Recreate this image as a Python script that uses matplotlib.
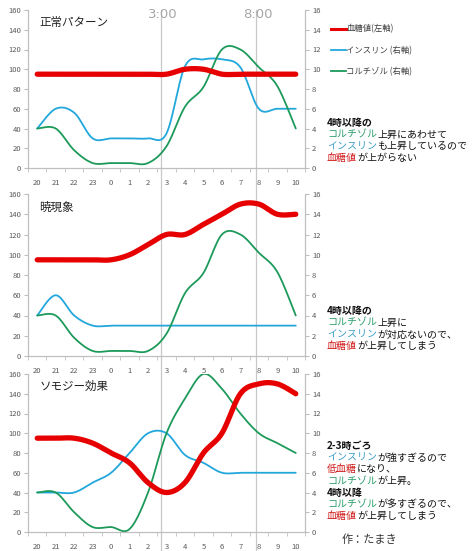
import numpy as np
import matplotlib
matplotlib.use('Agg')
import matplotlib.pyplot as plt
from matplotlib.lines import Line2D
from matplotlib import transforms

plt.rcParams['font.family'] = ['Noto Sans CJK JP', 'DejaVu Sans']

# 時刻 (カテゴリ)
hours = ['20', '21', '22', '23', '0', '1', '2', '3', '4', '5', '6', '7', '8', '9', '10']

# 正常パターン
seito_1 = [95, 95, 95, 95, 95, 95, 95, 95, 100, 100, 95, 95, 95, 95, 95]
insulin_1 = [4, 6, 5.6, 3, 3, 3, 3, 3.5, 10.3, 11, 11, 10.2, 6, 6, 6]
cortisol_1 = [4, 4, 1.8, 0.5, 0.5, 0.5, 0.5, 2.2, 6.2, 8.2, 12, 12, 10.2, 8.3, 4]

# 暁現象
seito_2 = [95, 95, 95, 95, 95, 100, 110, 120, 120, 130, 140, 150, 150, 140, 140]
insulin_2 = [4, 6, 4, 3, 3, 3, 3, 3, 3, 3, 3, 3, 3, 3, 3]
cortisol_2 = [4, 4, 1.8, 0.5, 0.5, 0.5, 0.5, 2.2, 6.2, 8.2, 12, 12, 10.2, 8.3, 4]

# ソモジー効果
seito_3 = [95, 95, 95, 90, 80, 70, 50, 40, 50, 80, 100, 140, 150, 150, 140]
insulin_3 = [4, 4, 4, 5, 6, 8, 10, 10, 7.8, 7, 6, 6, 6, 6, 6]
cortisol_3 = [4, 4, 2, 0.5, 0.5, 0.3, 4, 10, 13.5, 16, 14.5, 12, 10, 9, 8]

titles = ['正常パターン', '暁現象', 'ソモジー効果']

RED = '#e60000'
BLUE = '#22a7dc'
GREEN = '#1d9a5a'
TXT_RED = '#d01818'
TXT_BLUE = '#3b9cc8'
TXT_GREEN = '#2a9d6a'
GRAY = '#595959'

W, H = 474, 551


def smooth(y, n=24):
    # Excelの「スムージング」風にベジェ曲線で結ぶ
    p = np.column_stack([np.arange(len(y)), np.asarray(y, float)])
    xs, ys = [], []
    t = np.linspace(0, 1, n)[:, None]
    for i in range(len(p) - 1):
        p0 = p[max(i - 1, 0)]
        p1 = p[i]
        p2 = p[i + 1]
        p3 = p[min(i + 2, len(p) - 1)]
        c1 = p1 + (p2 - p0) / 6
        c2 = p2 - (p3 - p1) / 6
        b = (1 - t) ** 3 * p1 + 3 * (1 - t) ** 2 * t * c1 + 3 * (1 - t) * t ** 2 * c2 + t ** 3 * p2
        xs.extend(b[:, 0])
        ys.extend(b[:, 1])
    return np.array(xs), np.array(ys)


fig = plt.figure(figsize=(W / 100, H / 100), dpi=100)

# パネル位置 (ピクセル: 上端, 下端)
panels = [(10, 168), (194, 356), (374, 532)]
data = [(seito_1, insulin_1, cortisol_1),
        (seito_2, insulin_2, cortisol_2),
        (seito_3, insulin_3, cortisol_3)]

axes = []
for k, ((top, bot), (s, ins, cor)) in enumerate(zip(panels, data)):
    ax = fig.add_axes([28 / W, 1 - bot / H, 277 / W, (bot - top) / H])
    ax2 = ax.twinx()
    ax.set_zorder(ax2.get_zorder() + 1)
    ax.patch.set_visible(False)

    x2, y2 = smooth(ins)
    ax2.plot(x2, y2, color=BLUE, lw=1.3, solid_capstyle='round')
    x3, y3 = smooth(cor)
    ax2.plot(x3, y3, color=GREEN, lw=1.3, solid_capstyle='round')
    x1, y1 = smooth(s)
    ax.plot(x1, y1, color=RED, lw=3.8, solid_capstyle='round')

    ax.set_xlim(-0.5, len(hours) - 0.5)
    ax.set_ylim(0, 160)
    ax2.set_ylim(0, 16)
    ax.set_yticks(np.arange(0, 161, 20))
    ax2.set_yticks(np.arange(0, 17, 2))
    ax.set_xticks(range(len(hours)))
    ax.set_xticklabels(hours)
    ax.set_xticks(np.arange(-0.5, len(hours), 1), minor=True)
    ax.tick_params(axis='x', which='major', length=0, pad=8, labelsize=5.5, labelcolor=GRAY)
    ax.tick_params(axis='x', which='minor', length=3, color='#bfbfbf')
    ax.tick_params(axis='y', length=3, color='#bfbfbf', labelsize=5.5, labelcolor=GRAY, pad=2)
    ax2.tick_params(axis='y', length=3, color='#bfbfbf', labelsize=5.5, labelcolor=GRAY, pad=2)
    for a in (ax, ax2):
        a.spines['top'].set_visible(False)
        for sp in ('left', 'right', 'bottom'):
            a.spines[sp].set_color('#bfbfbf')
            a.spines[sp].set_linewidth(0.8)

    ax.text(0.04, 0.92, titles[k], transform=ax.transAxes, fontsize=8.3,
            color='#222222', va='center', ha='left')
    axes.append(ax)

# 3:00 と 8:00 の縦線
for xv, lab in [(6.7, '3:00'), (11.85, '8:00')]:
    xf = fig.transFigure.inverted().transform(axes[0].transData.transform((xv, 0)))[0]
    fig.add_artist(Line2D([xf, xf], [0, 1 - 10 / H], transform=fig.transFigure,
                          color='#c8c8c8', lw=0.9, zorder=0))
    fig.text(xf + 2 / W, 1 - 15 / H, lab, fontsize=9.5, color='#a6a6a6',
             family='DejaVu Sans', ha='center', va='center')

# 凡例
handles = [Line2D([], [], color=RED, lw=2.2),
           Line2D([], [], color=BLUE, lw=1.3),
           Line2D([], [], color=GREEN, lw=1.3)]
fig.legend(handles, ['血糖値(左軸)', 'インスリン (右軸)', 'コルチゾル (右軸)'],
           loc='upper left', bbox_to_anchor=(323 / W, 1 - 17 / H), frameon=False,
           fontsize=6, handlelength=1.8, handletextpad=0.1, labelspacing=1.45,
           labelcolor='#404040')


def block(x_px, y_px, lines, fs=7.2, step=11.7):
    for i, segs in enumerate(lines):
        off = 0
        for text, color, bold in segs:
            tr = transforms.offset_copy(fig.transFigure, fig=fig, x=off, y=0, units='points')
            fig.text(x_px / W, 1 - (y_px + i * step) / H, text, color=color, fontsize=fs,
                     fontweight='bold' if bold else 'normal', va='center', ha='left',
                     transform=tr)
            off += len(text) * fs


K = '#111111'
block(327, 123, [
    [('4時以降の', K, True)],
    [('コルチゾル', TXT_GREEN, False), ('上昇にあわせて', K, False)],
    [('インスリン', TXT_BLUE, False), ('も上昇しているので', K, False)],
    [('血糖値', TXT_RED, False), ('が上がらない', K, False)],
])
block(327, 311, [
    [('4時以降の', K, True)],
    [('コルチゾル', TXT_GREEN, False), ('上昇に', K, False)],
    [('インスリン', TXT_BLUE, False), ('が対応ないので、', K, False)],
    [('血糖値', TXT_RED, False), ('が上昇してしまう', K, False)],
])
block(327, 446, [
    [('2-3時ごろ', K, True)],
    [('インスリン', TXT_BLUE, False), ('が強すぎるので', K, False)],
    [('低血糖', TXT_RED, False), ('になり、', K, False)],
    [('コルチゾル', TXT_GREEN, False), ('が上昇。', K, False)],
    [('4時以降', K, True)],
    [('コルチゾル', TXT_GREEN, False), ('が多すぎるので、', K, False)],
    [('血糖値', TXT_RED, False), ('が上昇してしまう', K, False)],
])

fig.text(342 / W, 1 - 540 / H, '作：たまき', fontsize=8, color='#333333', va='center', ha='left')

fig.savefig('out.png', dpi=100)
